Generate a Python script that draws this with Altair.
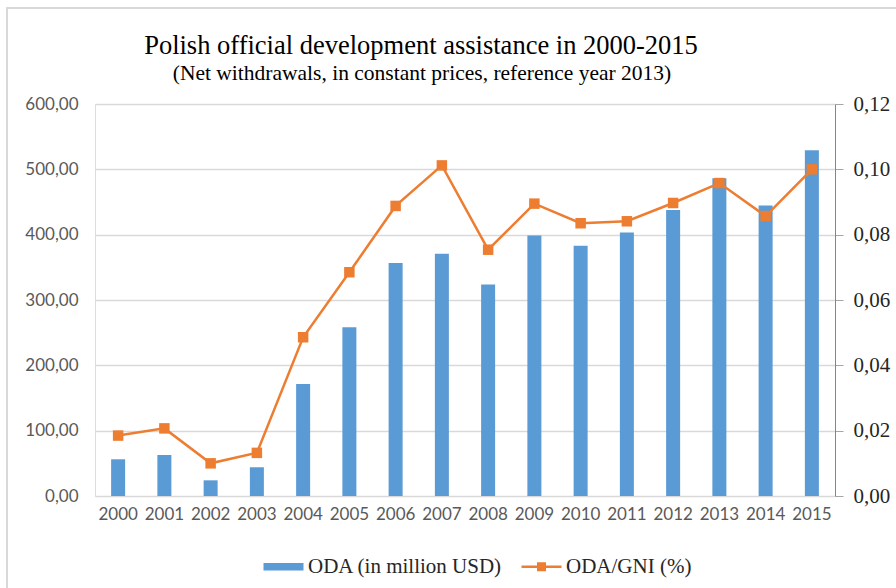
import altair as alt
import pandas as pd

years = [str(y) for y in range(2000, 2016)]
oda = [56.2, 62.8, 24.0, 44.0, 171.6, 258.4, 356.5, 370.8, 323.8, 398.9, 383.0, 403.5, 437.7, 486.2, 444.8, 529.1]
oda_gni = [0.0185, 0.0207, 0.0100, 0.0132, 0.0486, 0.0685, 0.0888, 0.1012, 0.0754, 0.0895, 0.0835, 0.0841, 0.0897, 0.0958, 0.0857, 0.1000]
series = ["ODA (in million USD)", "ODA/GNI (%)"]
colors = ["#5B9BD5", "#ED7D31"]
title_text = "Polish official development assistance in 2000-2015"
subtitle_text = "(Net withdrawals, in constant prices, reference year 2013)"

df_bar = pd.DataFrame({"year": years, "value": oda, "series": series[0]})
df_line = pd.DataFrame({"year": years, "value": oda_gni, "series": series[1]})

W, H = 740, 392
PL, PT = 95, 104

x_enc = alt.X("year:O", title=None,
              axis=alt.Axis(labelAngle=0, labelFont="Lato", labelFontSize=17,
                            labelColor="#595959", ticks=False, domain=False,
                            labelPadding=10))

legend_kw = dict(orient="none", legendX=178, legendY=452, direction="horizontal",
                 labelFont="Liberation Serif", labelFontSize=21, labelColor="#262626",
                 symbolSize=400, columnPadding=18, labelOffset=14, labelLimit=400,
                 symbolStrokeWidth=0, symbolOpacity=1)

color_enc = alt.Color("series:N",
                      scale=alt.Scale(domain=series, range=colors),
                      title=None, legend=alt.Legend(**legend_kw))
shape_enc = alt.Shape("series:N",
                      scale=alt.Scale(domain=series,
                                      range=["M-2,-0.38H2V0.38H-2Z",
                                             "M-2,-0.12H2V0.12H-2Z M-0.45,-0.45H0.45V0.45H-0.45Z"]),
                      title=None, legend=alt.Legend(**legend_kw))

label_fmt = "replace(format(datum.value, '.2f'), '.', ',')"

bars = alt.Chart(df_bar).mark_bar(size=14, color=colors[0]).encode(
    x=x_enc,
    y=alt.Y("value:Q", title=None,
            scale=alt.Scale(domain=[0, 600], nice=False),
            axis=alt.Axis(values=[0, 100, 200, 300, 400, 500, 600], labelExpr=label_fmt,
                          labelFont="Lato", labelFontSize=17, labelColor="#595959",
                          ticks=False, domain=False, labelPadding=17,
                          gridColor="#D9D9D9", gridWidth=1.5)),
    color=color_enc,
)

legend_helper = alt.Chart(df_line).transform_filter("false").mark_point(filled=True, opacity=1).encode(
    x=alt.X("year:O"),
    color=color_enc,
    shape=shape_enc,
)

right_axis = alt.Axis(orient="right", values=[0, 0.02, 0.04, 0.06, 0.08, 0.10, 0.12],
                      labelExpr=label_fmt,
                      labelFont="Liberation Serif", labelFontSize=21, labelColor="#262626",
                      ticks=True, tickSize=8, tickColor="#A6A6A6", domain=True,
                      domainColor="#868686", labelPadding=10, grid=False)

line = alt.Chart(df_line).mark_line(
    color=colors[1], strokeWidth=2.5,
    point=alt.OverlayMarkDef(shape="square", size=110, filled=True, color=colors[1], opacity=1)
).encode(
    x=alt.X("year:O"),
    y=alt.Y("value:Q", title=None, scale=alt.Scale(domain=[0, 0.12], nice=False),
            axis=right_axis),
    color=color_enc,
)

one = alt.Data(values=[{"k": 1}])
frame_top = alt.Chart(one).mark_rule(color="#D9D9D9", strokeWidth=2).encode(
    x=alt.value(6 - PL), x2=alt.value(896 - PL), y=alt.value(8 - PT))
frame_left = alt.Chart(one).mark_rule(color="#D9D9D9", strokeWidth=2).encode(
    x=alt.value(7 - PL), y=alt.value(8 - PT), y2=alt.value(588 - PT))

title_mark = alt.Chart(one).mark_text(
    text=title_text, font="Liberation Serif", fontSize=26.5, color="#000000",
    align="center", baseline="alphabetic"
).encode(x=alt.value(421 - PL), y=alt.value(54 - PT))
subtitle_mark = alt.Chart(one).mark_text(
    text=subtitle_text, font="Liberation Serif", fontSize=21.5, color="#000000",
    align="center", baseline="alphabetic"
).encode(x=alt.value(422 - PL), y=alt.value(80 - PT))

left_layer = alt.layer(bars, legend_helper)

chart = alt.layer(left_layer, line, frame_top, frame_left, title_mark, subtitle_mark).resolve_scale(
    y="independent"
).properties(
    width=W, height=H,
    autosize=alt.AutoSizeParams(type="none"),
    padding={"left": PL, "top": PT, "right": 896 - PL - W, "bottom": 588 - PT - H},
).configure_view(stroke=None).configure(background="white")

chart.save("out.html", embed_options={"renderer": "svg", "actions": False})
